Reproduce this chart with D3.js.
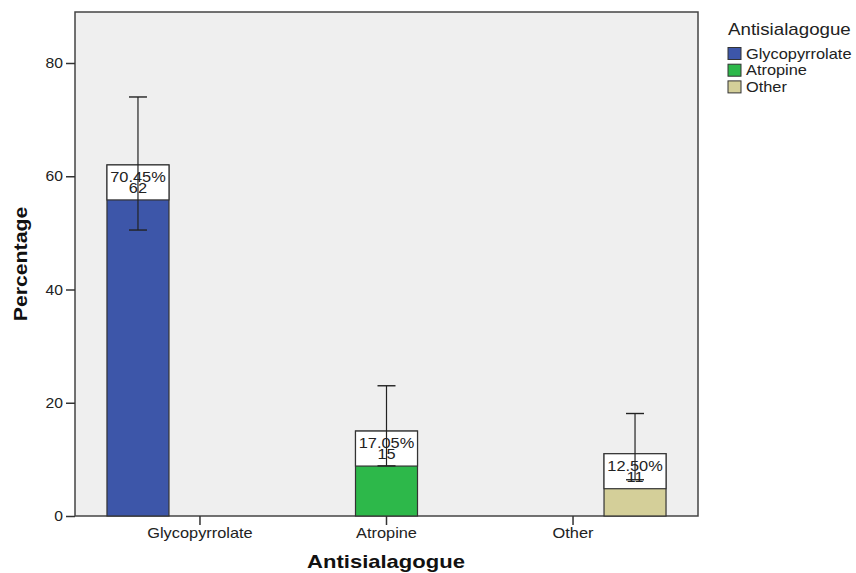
<!DOCTYPE html>
<html><head><meta charset="utf-8">
<script src="https://cdn.jsdelivr.net/npm/d3@7"></script>
<style>body{margin:0;background:#fff}svg{display:block}text{font-family:"Liberation Sans",Arial,sans-serif}</style>
</head><body>
<svg id="c" width="856" height="573"></svg>
<script>
const categories = ["Glycopyrrolate", "Atropine", "Other"];
const seriesNames = ["Glycopyrrolate", "Atropine", "Other"];
const values = [62, 15, 11];
const percentLabels = ["70.45%", "17.05%", "12.50%"];
const countLabels = ["62", "15", "11"];
const errHigh = [74, 23, 18.1];
const errLow = [50.5, 8.85, 6.4];
const yTicks = [0, 20, 40, 60, 80];
const colors = ["#3d56a9", "#2db84a", "#d4cf99"];

const SX = 1.17; // horizontal stretch of the original image's text
const svg = d3.select("#c");
const L = 75, R = 698, T = 12, B = 516;
const x = d3.scaleBand().domain(categories).range([L, R]).paddingOuter(0.17).paddingInner(0);
const xs = d3.scaleBand().domain(seriesNames).range([-93, 93]);
const y = d3.scaleLinear().domain([0, 89]).range([B, B - 89 * (453 / 80)]);

function stext(parent, tx, ty, str, size, anchor, opts = {}) {
  const gg = parent.append("g").attr("transform", `translate(${tx},${ty})${opts.rot ? " rotate(" + opts.rot + ")" : ""} scale(${opts.sx || SX},1)`);
  const t = gg.append("text").attr("text-anchor", anchor).attr("font-size", size).attr("fill", opts.fill || "#222").text(str);
  if (opts.family) t.attr("font-family", opts.family);
  if (opts.weight) t.attr("font-weight", opts.weight);
  return t;
}

svg.append("rect").attr("x", L).attr("y", T).attr("width", R - L).attr("height", B - T)
  .attr("fill", "#efefef").attr("stroke", "#444").attr("stroke-width", 1.5);

const data = categories.map((c, i) => ({c, s: seriesNames[i], v: values[i], p: percentLabels[i], n: countLabels[i], hi: errHigh[i], lo: errLow[i], col: colors[i]}));

const g = svg.append("g");
data.forEach(d => {
  const bx = x(d.c) + x.bandwidth() / 2 + xs(d.s);
  const bw = xs.bandwidth();
  g.append("rect").attr("x", bx).attr("y", y(d.v)).attr("width", bw).attr("height", y(0) - y(d.v))
    .attr("fill", d.col).attr("stroke", "#333").attr("stroke-width", 1.2);
  g.append("rect").attr("x", bx).attr("y", y(d.v)).attr("width", bw).attr("height", 35)
    .attr("fill", "#fff").attr("stroke", "#333").attr("stroke-width", 1.2);
  const cx = bx + bw / 2;
  g.append("line").attr("x1", cx).attr("x2", cx).attr("y1", y(d.hi)).attr("y2", y(d.lo)).attr("stroke", "#222").attr("stroke-width", 1.2);
  [d.hi, d.lo].forEach(v => g.append("line").attr("x1", cx - 9).attr("x2", cx + 9).attr("y1", y(v)).attr("y2", y(v)).attr("stroke", "#222").attr("stroke-width", 1.4));
  stext(g, cx, y(d.v) + 17, d.p, 14, "middle");
  stext(g, cx, y(d.v) + 28, d.n, 14, "middle");
});

// axes
const yAxis = d3.axisLeft(y).tickValues(yTicks).tickSize(9).tickFormat("");
const ya = svg.append("g").attr("transform", `translate(${L},0)`).call(yAxis);
ya.select(".domain").remove();
ya.selectAll("line").attr("stroke", "#333").attr("stroke-width", 1.5);
yTicks.forEach(t => stext(svg, L - 12, y(t) + 5, String(t), 14, "end", {sx: 1.12}));

const xAxis = d3.axisBottom(x).tickSize(9).tickFormat("");
const xa = svg.append("g").attr("transform", `translate(0,${B})`).call(xAxis);
xa.select(".domain").remove();
xa.selectAll("line").attr("stroke", "#333").attr("stroke-width", 1.5);
categories.forEach(c => stext(svg, x(c) + x.bandwidth() / 2, 538, c, 14, "middle"));

stext(svg, 386, 568, "Antisialagogue", 19, "middle", {family: "DejaVu Sans", weight: "bold", fill: "#111", sx: 1.16});
stext(svg, 27, 264, "Percentage", 18, "middle", {family: "DejaVu Sans", weight: "bold", fill: "#111", rot: -90, sx: 1.18});

// legend
const lg = svg.append("g");
stext(lg, 728, 35, "Antisialagogue", 16, "start");
seriesNames.forEach((s, i) => {
  lg.append("rect").attr("x", 728).attr("y", 47.5 + i * 16.7).attr("width", 13).attr("height", 12)
    .attr("fill", colors[i]).attr("stroke", "#333").attr("stroke-width", 1);
  stext(lg, 746, 58.5 + i * 16.7, s, 14, "start");
});
</script>
</body></html>
